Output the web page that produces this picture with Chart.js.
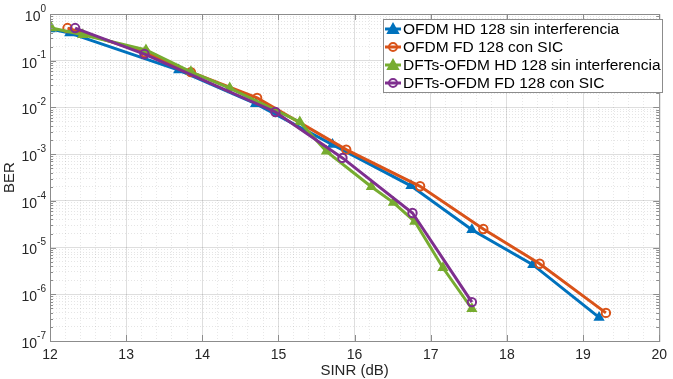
<!DOCTYPE html>
<html>
<head>
<meta charset="utf-8">
<title>BER vs SINR</title>
<script src="https://cdn.jsdelivr.net/npm/chart.js@4.4.1/dist/chart.umd.min.js"></script>
<style>
  html, body { margin: 0; padding: 0; background: #fff; }
  #wrap { width: 673px; height: 379px; }
</style>
</head>
<body>
<div id="wrap"><canvas id="chart" width="673" height="379"></canvas></div>
<script>
'use strict';

/* ---- data ---- */
const seriesNames = [
  'OFDM HD 128 sin interferencia',
  'OFDM FD 128 con SIC',
  'DFTs-OFDM HD 128 sin interferencia',
  'DFTs-OFDM FD 128 con SIC'
];
const ofdmHdSinr = [12.0, 12.26, 13.69, 14.70, 15.71, 16.74, 17.54, 18.34, 19.21];
const ofdmHdBer  = [0.48, 0.39, 0.063, 0.012, 1.6e-3, 2.1e-4, 2.4e-5, 4.3e-6, 3.2e-7];
const ofdmFdSinr = [12.23, 13.25, 13.85, 14.72, 15.89, 16.86, 17.69, 18.43, 19.30];
const ofdmFdBer  = [0.50, 0.15, 0.057, 0.016, 1.25e-3, 2.05e-4, 2.5e-5, 4.5e-6, 4.0e-7];
const dftsHdSinr = [12.02, 12.43, 13.26, 13.85, 14.36, 15.28, 15.63, 16.22, 16.51, 16.79, 17.16, 17.54];
const dftsHdBer  = [0.50, 0.36, 0.17, 0.058, 0.026, 4.9e-3, 1.15e-3, 2.0e-4, 9.2e-5, 3.6e-5, 3.7e-6, 4.9e-7];
const dftsFdSinr = [12.33, 13.24, 14.96, 15.84, 16.76, 17.54];
const dftsFdBer  = [0.50, 0.139, 8.0e-3, 8.3e-4, 5.5e-5, 6.8e-7];

const xTicks = [12, 13, 14, 15, 16, 17, 18, 19, 20];
const yDecades = [-7, -6, -5, -4, -3, -2, -1, 0];

const colors = ['#0072BD', '#D95319', '#77AC30', '#7E2F8E'];
const markers = ['triangle', 'circle', 'triangle', 'circle'];
const filled = [true, false, true, false];

const toPoints = (xs, ys) => xs.map((x, i) => ({ x, y: ys[i] }));
const allX = [ofdmHdSinr, ofdmFdSinr, dftsHdSinr, dftsFdSinr];
const allY = [ofdmHdBer, ofdmFdBer, dftsHdBer, dftsFdBer];

const datasets = seriesNames.map((name, i) => ({
  label: name,
  data: toPoints(allX[i], allY[i]),
  borderColor: colors[i],
  backgroundColor: filled[i] ? colors[i] : 'rgba(0,0,0,0)',
  pointBackgroundColor: filled[i] ? colors[i] : 'rgba(0,0,0,0)',
  pointBorderColor: colors[i],
  pointStyle: markers[i],
  pointRadius: filled[i] ? 4.5 : 4.2,
  pointBorderWidth: 2,
  borderWidth: 3,
  tension: 0,
  fill: false,
  order: 3 - i
}));

const FONT = "'Liberation Sans', Arial, sans-serif";
const isInt = v => Math.abs(v - Math.round(v)) < 1e-6;
const isDecade = v => { const l = Math.log10(v); return Math.abs(l - Math.round(l)) < 1e-6; };

/* ---- frame, tick marks, y labels, axis titles, legend ---- */
const matlabLook = {
  id: 'matlabLook',
  afterDraw(chart) {
    const { ctx, chartArea: a, scales: { x, y } } = chart;
    ctx.save();
    // box
    ctx.strokeStyle = '#8c8c8c';
    ctx.lineWidth = 1;
    ctx.strokeRect(a.left + 0.5, a.top + 0.5, a.right - a.left, a.bottom - a.top);
    // x ticks (inward, bottom + top)
    ctx.beginPath();
    xTicks.forEach(v => {
      const px = Math.round(x.getPixelForValue(v)) + 0.5;
      ctx.moveTo(px, a.bottom); ctx.lineTo(px, a.bottom - 6);
      ctx.moveTo(px, a.top); ctx.lineTo(px, a.top + 6);
    });
    // y ticks, major and minor
    y.ticks.forEach(t => {
      const py = Math.round(y.getPixelForValue(t.value)) + 0.5;
      const len = isDecade(t.value) ? 6 : 3;
      ctx.moveTo(a.left, py); ctx.lineTo(a.left + len, py);
      ctx.moveTo(a.right, py); ctx.lineTo(a.right - len, py);
    });
    ctx.stroke();

    // y labels 10^n
    ctx.fillStyle = '#262626';
    ctx.textBaseline = 'middle';
    ctx.textAlign = 'left';
    yDecades.forEach(e => {
      const py = y.getPixelForValue(Math.pow(10, e));
      const exp = String(e);
      ctx.font = '10px ' + FONT;
      const ew = ctx.measureText(exp).width;
      ctx.font = '14px ' + FONT;
      const bw = ctx.measureText('10').width;
      const right = a.left - 4;
      ctx.fillText('10', right - ew - bw, py + 3);
      ctx.font = '10px ' + FONT;
      ctx.fillText(exp, right - ew, py - 5);
    });

    // axis titles
    ctx.font = '15px ' + FONT;
    ctx.textAlign = 'center';
    ctx.fillText('SINR (dB)', (a.left + a.right) / 2, 371);
    ctx.save();
    ctx.translate(10, (a.top + a.bottom) / 2);
    ctx.rotate(-Math.PI / 2);
    ctx.fillText('BER', 0, 0);
    ctx.restore();

    // legend
    const lx = 383, ly = 19, lw = 279, lh = 73;
    ctx.fillStyle = '#fff';
    ctx.fillRect(lx, ly, lw, lh);
    ctx.strokeStyle = '#8c8c8c';
    ctx.lineWidth = 1;
    ctx.strokeRect(lx + 0.5, ly + 0.5, lw, lh);
    ctx.font = '15.5px ' + FONT;
    ctx.textAlign = 'left';
    seriesNames.forEach((name, i) => {
      const ry = 29 + i * 18;
      ctx.strokeStyle = colors[i];
      ctx.lineWidth = 3;
      ctx.beginPath();
      ctx.moveTo(385, ry); ctx.lineTo(401, ry);
      ctx.stroke();
      ctx.lineWidth = 2;
      ctx.beginPath();
      if (markers[i] === 'circle') {
        ctx.arc(393, ry, 4, 0, Math.PI * 2);
        ctx.stroke();
      } else {
        ctx.fillStyle = colors[i];
        ctx.moveTo(393, ry - 5); ctx.lineTo(398, ry + 4); ctx.lineTo(388, ry + 4); ctx.closePath();
        ctx.fill();
        ctx.stroke();
      }
      ctx.fillStyle = '#000';
      ctx.fillText(name, 403, ry + 1);
    });
    ctx.restore();
  }
};

new Chart(document.getElementById('chart'), {
  type: 'line',
  data: { datasets },
  options: {
    responsive: false,
    animation: false,
    layout: { padding: { top: 14, right: 6, left: 0, bottom: 0 } },
    plugins: { legend: { display: false }, tooltip: { enabled: false } },
    scales: {
      x: {
        type: 'linear',
        min: 12, max: 20,
        afterFit: s => { s.height = 38; },
        afterBuildTicks: s => {
          const t = [];
          for (let k = 0; k <= 40; k++) t.push({ value: 12 + k * 0.2 });
          s.ticks = t;
        },
        border: {
          display: false,
          dash: ctx => (ctx.tick && isInt(ctx.tick.value)) ? [] : [1, 2]
        },
        grid: {
          drawTicks: false,
          color: ctx => (ctx.tick && isInt(ctx.tick.value)) ? 'rgba(0,0,0,0.13)' : 'rgba(0,0,0,0.09)',
          lineWidth: 1
        },
        ticks: {
          autoSkip: false,
          maxRotation: 0,
          padding: 6,
          color: '#262626',
          font: { family: FONT, size: 14 },
          callback: v => isInt(v) ? String(Math.round(v)) : ''
        }
      },
      y: {
        type: 'logarithmic',
        min: 1e-7, max: 1,
        afterFit: s => { s.width = 50; },
        afterBuildTicks: s => {
          const t = [];
          yDecades.forEach(e => {
            for (let m = 1; m <= 9; m++) {
              const v = m * Math.pow(10, e);
              if (v <= 1.0000001) t.push({ value: v });
            }
          });
          s.ticks = t;
        },
        border: {
          display: false,
          dash: ctx => (ctx.tick && isDecade(ctx.tick.value)) ? [] : [1, 2]
        },
        grid: {
          drawTicks: false,
          color: ctx => (ctx.tick && isDecade(ctx.tick.value)) ? 'rgba(0,0,0,0.13)' : 'rgba(0,0,0,0.10)',
          lineWidth: 1
        },
        ticks: { display: false }
      }
    }
  },
  plugins: [matlabLook]
});
</script>
</body>
</html>
